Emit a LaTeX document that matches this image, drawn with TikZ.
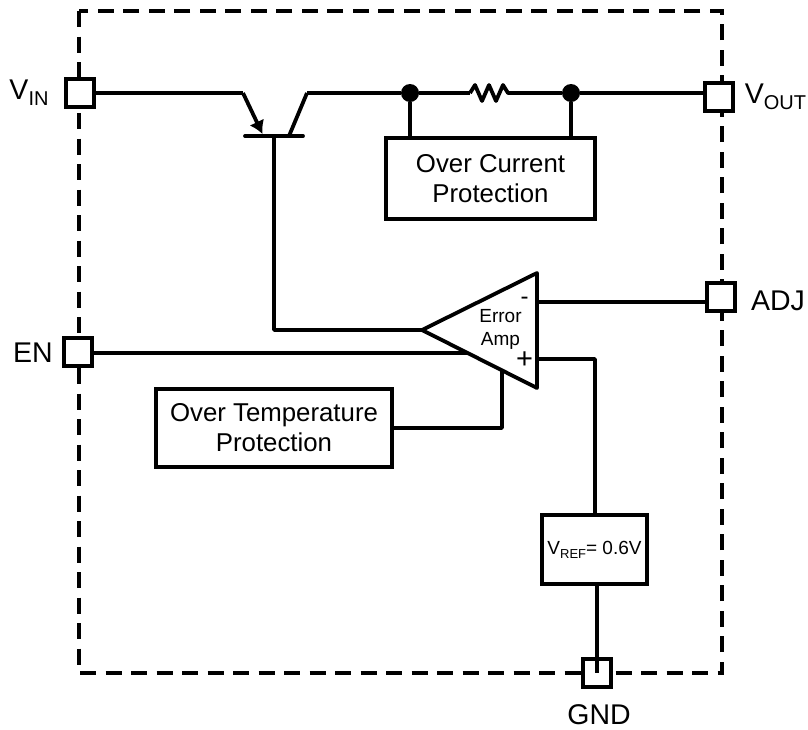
\documentclass[tikz,border=0pt]{standalone}
\usepackage{fontspec}
\setmainfont{Liberation Sans}
\usepackage{tikz}
\usetikzlibrary{positioning}
\usetikzlibrary{arrows.meta}

\newcommand{\sublabel}[2]{#1\raisebox{-0.22em}{\fontsize{20}{22}\selectfont #2}}

\tikzset{
  wire/.style={line width=3.8pt, line join=round},
  pinbox/.style={draw, line width=3.8pt, fill=white, minimum size=28pt, inner sep=0pt},
  blockbox/.style={draw, line width=3.8pt, fill=white, align=center, inner sep=0pt, font=\fontsize{25.8}{30}\selectfont},
  dot/.style={circle, fill=black, minimum size=18pt, inner sep=0pt},
  pinlabel/.style={inner sep=0pt, font=\fontsize{28.5}{30}\selectfont},
}

\begin{document}
\begin{tikzpicture}[x=1pt, y=-1pt]

% Set the size of the figure
\useasboundingbox (0,0) rectangle (808,729);

% Draw the dashed outline
\draw[line width=3.2pt, dash pattern=on 16pt off 9.5pt] (79,11) rectangle (722,673);

% Pins
\node[pinbox] (vin) at (80,93) {};
\node[pinbox] (vout) at (719,97) {};
\node[pinbox] (adj) at (721,297) {};
\node[pinbox] (en) at (78,352) {};
\node[pinbox] (gnd) at (597,673) {};

% Pin labels
\node[pinlabel] (vinlabel) at (29,93) {\sublabel{V}{IN}};
\node[pinlabel] (voutlabel) at (775.5,97) {\sublabel{V}{OUT}};
\node[pinlabel] (adjlabel) at (778,301) {ADJ};
\node[pinlabel] (enlabel) at (33,353) {EN};
\node[pinlabel] (gndlabel) at (599,714.5) {GND};

% Blocks
\node[blockbox, minimum width=209pt, minimum height=81pt] (ocp) at (490.5,178.5) {Over Current\\Protection};
\node[blockbox, minimum width=236pt, minimum height=78pt] (otp) at (274,428) {Over Temperature\\Protection};
\node[blockbox, minimum width=105pt, minimum height=69pt, font=\fontsize{19}{24}\selectfont] (vref) at (594.5,549.5) {\raisebox{0pt}{V\raisebox{-0.2em}{\fontsize{13}{15}\selectfont REF}= 0.6V}};

% Error amplifier
\coordinate (amptip) at (422,330);
\coordinate (amptop) at (537,273);
\coordinate (ampbot) at (537,388);
\coordinate (ampminus) at (537,302);
\coordinate (ampplus) at (537,359);
\coordinate (ampen) at (468,353);
\coordinate (amptemp) at (502,371);
\draw[wire] (amptip) -- (amptop) -- (ampbot) -- cycle;
\node[align=center, inner sep=0pt, font=\fontsize{19}{23}\selectfont] (amptext) at (500.5,329) {Error\\Amp};
\node[inner sep=0pt, font=\fontsize{24}{24}\selectfont] (minussign) at (524.5,301) {-};
\node[inner sep=0pt, font=\fontsize{29}{29}\selectfont] (plussign) at (524.5,360) {+};

% Transistor
\coordinate (barleft) at (245,136);
\coordinate (barright) at (303,136);
\coordinate (basept) at (274,136);
\coordinate (emitter) at (262.5,134);
\coordinate (emittertop) at (243,93);
\coordinate (collector) at (289,136);
\coordinate (collectortop) at (307,93);
\draw[wire, line cap=round] (barleft) -- (barright);
\draw[wire] (collector) -- (collectortop);
\draw[wire, -{Latex[length=13pt, width=16pt]}] (emittertop) -- (emitter);

% Top rail with the sense resistor
\node[dot] (dotleft) at (410,93) {};
\node[dot] (dotright) at (571,93) {};
\coordinate (resleft) at (470,93);
\coordinate (resright) at (512,93);
\draw[wire] (vin) -- (emittertop);
\draw[wire] (collectortop) -- (dotleft) -- (resleft);
\draw[wire] (resleft) -- ++(5,-8) -- ++(7,16) -- ++(7,-16) -- ++(7,16) -- ++(7,-16) -- ++(5,8) -- (resright);
\draw[wire] (resright) -- (dotright) -- (vout.west |- dotright);
\draw[wire] (dotleft) -- (dotleft |- ocp.north);
\draw[wire] (dotright) -- (dotright |- ocp.north);

% Connections around the amplifier
\coordinate (basecorner) at (274,330);
\coordinate (plusturn) at (595,359);
\draw[wire] (basept) -- (basecorner) -- (amptip |- basecorner);
\draw[wire] (en.east |- ampen) -- (ampen);
\draw[wire] (ampminus) -- (adj.west |- ampminus);
\draw[wire] (ampplus) -- (plusturn) -- (plusturn |- vref.north);
\draw[wire] (otp.east) -- (amptemp |- otp.east) -- (amptemp);
\draw[wire] (vref.south -| gnd) -- (gnd.center);
\end{tikzpicture}
\end{document}
